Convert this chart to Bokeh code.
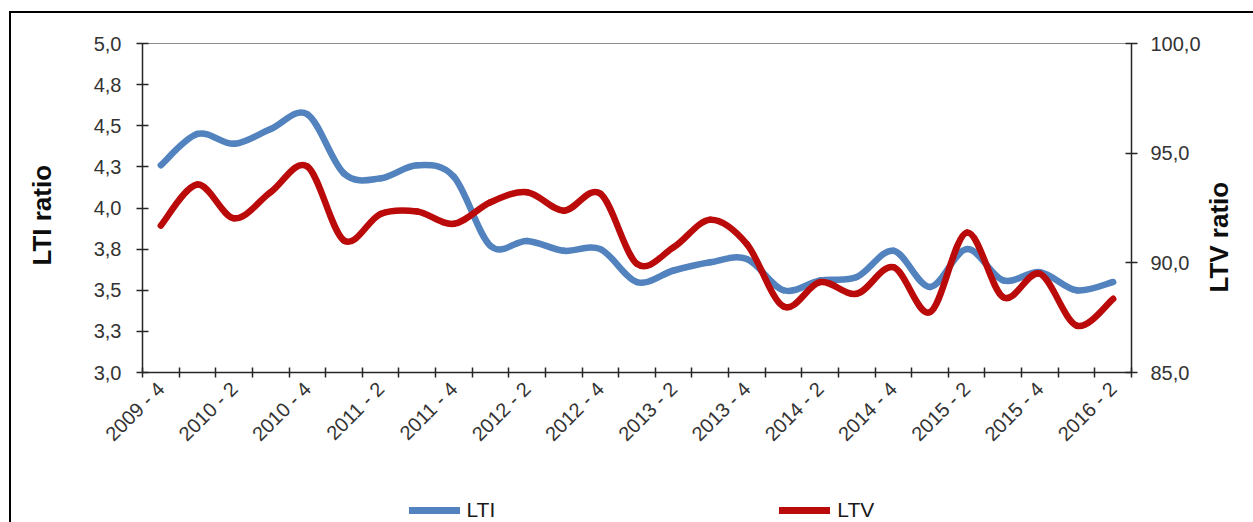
import numpy as np
from math import pi
from bokeh.plotting import figure
from bokeh.layouts import column, row
from bokeh.models import (Range1d, LinearAxis, FixedTicker, Legend, LegendItem,
                          ColumnDataSource, Label)
from bokeh.embed import file_html
from bokeh.resources import INLINE

# ---------------- data ----------------
quarters = ["2009 - 4",
            "2010 - 1", "2010 - 2", "2010 - 3", "2010 - 4",
            "2011 - 1", "2011 - 2", "2011 - 3", "2011 - 4",
            "2012 - 1", "2012 - 2", "2012 - 3", "2012 - 4",
            "2013 - 1", "2013 - 2", "2013 - 3", "2013 - 4",
            "2014 - 1", "2014 - 2", "2014 - 3", "2014 - 4",
            "2015 - 1", "2015 - 2", "2015 - 3", "2015 - 4",
            "2016 - 1", "2016 - 2"]

lti = [4.26, 4.45, 4.39, 4.48, 4.57, 4.21, 4.18, 4.26, 4.19,
       3.77, 3.80, 3.74, 3.75, 3.55, 3.62, 3.67, 3.69, 3.50,
       3.56, 3.58, 3.74, 3.52, 3.75, 3.56, 3.61, 3.50, 3.55]

ltv = [91.70, 93.57, 92.03, 93.22, 94.39, 91.02, 92.23, 92.34, 91.78,
       92.76, 93.22, 92.38, 93.15, 89.95, 90.71, 91.96, 90.85, 88.01,
       89.12, 88.59, 89.80, 87.75, 91.38, 88.43, 89.50, 87.14, 88.36]

left_ticks = [3.0, 3.25, 3.5, 3.75, 4.0, 4.25, 4.5, 4.75, 5.0]
left_tick_labels = ["3,0", "3,3", "3,5", "3,8", "4,0", "4,3", "4,5", "4,8", "5,0"]
right_ticks = [85, 90, 95, 100]
right_tick_labels = ["85,0", "90,0", "95,0", "100,0"]

series_names = ["LTI", "LTV"]
axis_titles = ["LTI ratio", "LTV ratio"]

BLUE = "#5283BE"
RED = "#BA0A0A"
FONT = "Liberation Sans"
TXT = "#333333"
AX = "#262626"
NBSP = "\u00a0"


def smooth_segments(vals):
    """Bezier segments through the data points (Excel-style smoothed line)."""
    n = len(vals)
    x = np.arange(n) + 0.5
    y = np.asarray(vals, dtype=float)
    i = np.arange(n - 1)
    im1 = np.clip(i - 1, 0, n - 1)
    ip2 = np.clip(i + 2, 0, n - 1)
    return ColumnDataSource(dict(
        x0=x[i], y0=y[i], x1=x[i + 1], y1=y[i + 1],
        cx0=x[i] + (x[i + 1] - x[im1]) / 6.0,
        cy0=y[i] + (y[i + 1] - y[im1]) / 6.0,
        cx1=x[i + 1] - (x[ip2] - x[i]) / 6.0,
        cy1=y[i + 1] - (y[ip2] - y[i]) / 6.0,
    ))


def bare_figure(w, h):
    f = figure(width=w, height=h, x_range=Range1d(0, 1), y_range=Range1d(0, 1),
               output_backend="svg", toolbar_location=None,
               x_axis_location=None, y_axis_location=None,
               min_border=0, min_border_left=0, min_border_right=0,
               min_border_top=0, min_border_bottom=0,
               outline_line_color=None, background_fill_color=None,
               border_fill_color=None)
    f.grid.visible = False
    return f


n = len(quarters)
p = figure(width=1203, height=480,
           x_range=Range1d(0, n), y_range=Range1d(left_ticks[0], left_ticks[-1]),
           output_backend="svg", toolbar_location=None,
           min_border_left=142, min_border_right=71,
           min_border_top=43, min_border_bottom=108,
           background_fill_color="white", border_fill_color=None,
           outline_line_color="#8c8c8c", outline_line_width=1)
p.extra_y_ranges = {"ltv": Range1d(right_ticks[0], right_ticks[-1])}
p.xgrid.visible = False
p.ygrid.visible = False

# ---- x axis ----
xa = p.xaxis[0]
xa.ticker = FixedTicker(ticks=[k + 0.5 for k in range(0, n, 2)],
                        minor_ticks=list(range(n + 1)))
xa.major_label_overrides = {k + 0.5: quarters[k] for k in range(0, n, 2)}
xa.major_label_orientation = pi / 4
xa.major_tick_in = 0
xa.major_tick_out = 0
xa.minor_tick_in = 5
xa.minor_tick_out = 5
xa.minor_tick_line_color = AX
xa.minor_tick_line_width = 1.5
xa.axis_line_color = AX
xa.axis_line_width = 1.5
xa.major_label_standoff = 8
xa.major_label_text_font = FONT
xa.major_label_text_font_size = "20px"
xa.major_label_text_color = TXT

# ---- left axis ----
ya = p.yaxis[0]
ya.ticker = FixedTicker(ticks=left_ticks)
ya.major_label_overrides = {t: s for t, s in zip(left_ticks, left_tick_labels)}
ya.minor_tick_line_color = None
ya.major_tick_in = 6
ya.major_tick_out = 6
ya.major_tick_line_color = AX
ya.major_tick_line_width = 1.5
ya.axis_line_color = AX
ya.axis_line_width = 1.5
ya.major_label_standoff = 15
ya.major_label_text_font = FONT
ya.major_label_text_font_size = "20px"
ya.major_label_text_color = TXT
ya.axis_label = axis_titles[0] + NBSP * 2
ya.axis_label_standoff = 34
ya.axis_label_text_font = FONT
ya.axis_label_text_font_size = "26px"
ya.axis_label_text_font_style = "bold"
ya.axis_label_text_color = "#0d0d0d"

# ---- right axis ----
ra = LinearAxis(y_range_name="ltv", ticker=FixedTicker(ticks=right_ticks))
ra.major_label_overrides = {t: s for t, s in zip(right_ticks, right_tick_labels)}
ra.minor_tick_line_color = None
ra.major_tick_in = 6
ra.major_tick_out = 6
ra.major_tick_line_color = AX
ra.major_tick_line_width = 1.5
ra.axis_line_color = AX
ra.axis_line_width = 1.5
ra.major_label_standoff = 13
ra.major_label_text_font = FONT
ra.major_label_text_font_size = "20px"
ra.major_label_text_color = TXT
p.add_layout(ra, "right")

# ---- smoothed lines ----
p.bezier(x0="x0", y0="y0", x1="x1", y1="y1", cx0="cx0", cy0="cy0", cx1="cx1", cy1="cy1",
         source=smooth_segments(lti), line_color=BLUE, line_width=6.5, line_cap="round")
p.bezier(x0="x0", y0="y0", x1="x1", y1="y1", cx0="cx0", cy0="cy0", cx1="cx1", cy1="cy1",
         source=smooth_segments(ltv), line_color=RED, line_width=6.5, line_cap="round",
         y_range_name="ltv")

# ---- right-hand axis title (own strip, reads bottom-to-top) ----
tfig = bare_figure(50, 480)
tfig.add_layout(Label(x=15, y=135.3, x_units="screen", y_units="screen",
                      text=axis_titles[1], angle=pi / 2, text_align="center",
                      text_baseline="middle", text_font=FONT, text_font_size="26px",
                      text_font_style="bold", text_color="#0d0d0d"))

# ---- legend strip ----
lg = bare_figure(1253, 42)
xs = np.arange(n) + 0.5
leg_lti = lg.line(x=xs, y=lti, line_color=BLUE, line_width=7, line_cap="round")
leg_ltv = lg.line(x=xs, y=ltv, line_color=RED, line_width=7, line_cap="round")
legend = Legend(items=[LegendItem(label=series_names[0], renderers=[leg_lti]),
                       LegendItem(label=series_names[1], renderers=[leg_ltv])],
                orientation="horizontal", location=(408.5, 0),
                padding=0, margin=0, spacing=284,
                glyph_width=51, glyph_height=22, label_height=22, label_standoff=7,
                border_line_alpha=0, background_fill_alpha=0,
                label_text_font=FONT, label_text_font_size="21px",
                label_text_color="#1a1a1a")
lg.add_layout(legend)

layout = column(row(p, tfig), lg)
# outer chart border (top and left edges visible in the crop)
layout.styles = {"background": "linear-gradient(#000,#000) 9px 11px / 2px calc(100% - 11px) no-repeat, "
                               "linear-gradient(#000,#000) 9px 11px / calc(100% - 9px) 2px no-repeat, #ffffff"}

open("out.html", "w").write(file_html(layout, INLINE))
